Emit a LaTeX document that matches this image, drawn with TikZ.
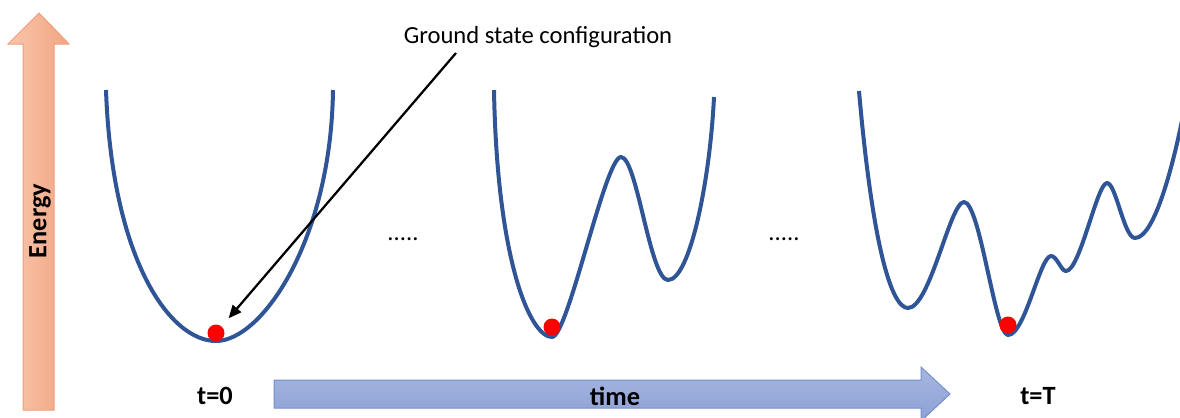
\documentclass[tikz,border=0pt]{standalone}
\usepackage{fontspec}
\setmainfont{Carlito}
\usetikzlibrary{arrows.meta}
\definecolor{wellblue}{RGB}{47,85,151}
\definecolor{ballred}{RGB}{255,0,0}
\definecolor{enlite}{RGB}{248,198,172}
\definecolor{endark}{RGB}{242,165,130}
\definecolor{enedge}{RGB}{238,158,122}
\definecolor{tmlite}{RGB}{166,182,224}
\definecolor{tmdark}{RGB}{140,161,213}
\definecolor{tmedge}{RGB}{118,143,204}
\tikzset{
  well/.style={wellblue, line width=0.8mm, line join=round},
  ball/.style={circle, fill=ballred, inner sep=0pt, minimum size=3.4mm},
  blab/.style={font=\fontsize{15}{18}\selectfont\bfseries, inner sep=0pt},
  glab/.style={font=\fontsize{14}{17}\selectfont, inner sep=0pt},
  parr/.style={-{Triangle[length=2.6mm, width=2.2mm]}, line width=0.45mm, black},
  earr/.style={left color=enlite, right color=endark, draw=enedge, line width=0.2mm},
  tarr/.style={top color=tmlite, bottom color=tmdark, draw=tmedge, line width=0.2mm},
}

\begin{document}
\begin{tikzpicture}[x=0.2mm, y=-0.2mm]
  \clip (0,0) rectangle (1180,417);
  % energy axis
  \path[earr] (23,410) -- (23,44) -- (8,44) -- (39,13) -- (69,44) -- (54,44) -- (54,410) -- cycle;
  \node[blab, rotate=90] (energy) at (40,221) {Energy};
  % time axis
  \path[tarr] (274,380) -- (921,380) -- (921,367) -- (950,394) -- (921,421) -- (921,408) -- (274,408) -- cycle;
  \node[blab] (time) at (615,396) {time};
  \node[blab] (t0) at (215,396) {t=0};
  \node[blab] (tT) at (1038,396) {t=T};
  % energy landscapes
  \draw[well] (106,90) .. controls (112,260) and (170,341) .. (216,341)
    .. controls (262,341) and (331,240) .. (333,90);
  \draw[well] (494,90) .. controls (497,260) and (530,337) .. (552,337)
    .. controls (568,337) and (605,157) .. (621,157)
    .. controls (637,157) and (650,280) .. (668,280)
    .. controls (690,280) and (710,180) .. (714,97);
  \draw[well] (859,91) .. controls (873,250) and (892,308) .. (908,308)
    .. controls (930,308) and (950,202) .. (964,202)
    .. controls (980,202) and (995,335) .. (1008,335)
    .. controls (1025,335) and (1040,256) .. (1051,256)
    .. controls (1057,256) and (1061,271) .. (1066,271)
    .. controls (1080,271) and (1097,183) .. (1107,183)
    .. controls (1116,183) and (1124,238) .. (1135,238)
    .. controls (1155,238) and (1175,160) .. (1186,100);
  \node[ball] (dot1) at (216,333) {};
  \node[ball] (dot2) at (552,327) {};
  \node[ball] (dot3) at (1008,325) {};
  \node[glab] (gap1) at (403,239) {.....};
  \node[glab] (gap2) at (784,239) {.....};
  % pointer to the ground state
  \node[glab] (gs) at (538,37) {Ground state configuration};
  \coordinate (gsfoot) at (456,53);
  \draw[parr, shorten >=2.1mm] (gsfoot) -- (dot1);
\end{tikzpicture}
\end{document}
